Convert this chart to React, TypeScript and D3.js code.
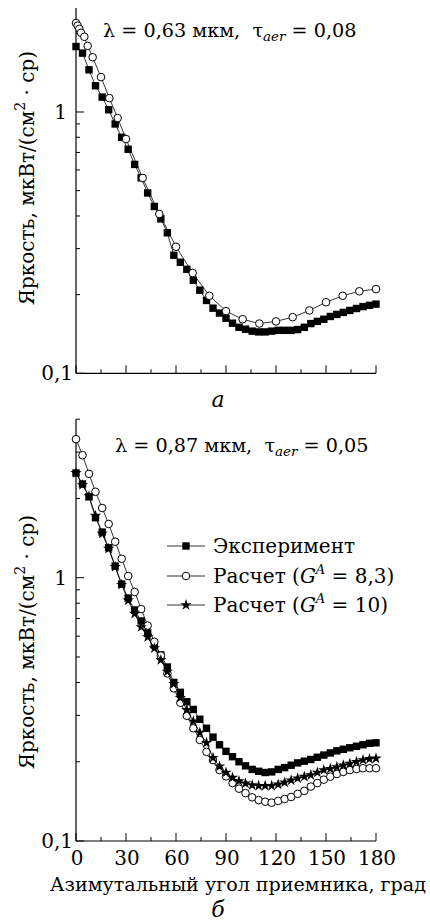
import React from 'react';
import * as d3 from 'd3';

// Azimuth angles of the measured/calculated points (deg)
const gridAngles = [0, 3.9, 7.8, 11.7, 15.7, 19.6, 23.5, 27.4, 31.3, 35.2, 39.1, 43.0, 47.0, 50.9, 54.8, 58.7, 62.6, 66.5, 70.4, 74.3, 78.3, 82.2, 86.1, 90.0, 93.9, 97.8, 101.7, 105.7, 109.6, 113.5, 117.4, 121.3, 125.2, 129.1, 133.0, 137.0, 140.9, 144.8, 148.7, 152.6, 156.5, 160.4, 164.3, 168.3, 172.2, 176.1, 180];

// Panel a: λ = 0,63 мкм
const topExp = [1.78, 1.68, 1.45, 1.26, 1.14, 1.02, 0.90, 0.80, 0.72, 0.63, 0.56, 0.49, 0.435, 0.39, 0.345, 0.283, 0.266, 0.25, 0.227, 0.208, 0.19, 0.1775, 0.17, 0.1625, 0.1555, 0.150, 0.1475, 0.145, 0.144, 0.144, 0.145, 0.146, 0.146, 0.146, 0.147, 0.150, 0.155, 0.158, 0.161, 0.165, 0.168, 0.171, 0.174, 0.177, 0.180, 0.182, 0.184];
const topCalcAngles = [0, 1, 2, 3, 5, 7, 10, 15, 20, 25, 30, 40, 50, 60, 70, 80, 90, 100, 110, 120, 130, 140, 150, 160, 170, 180];
const topCalc = [2.19, 2.14, 2.08, 2.01, 1.94, 1.79, 1.62, 1.36, 1.13, 0.948, 0.788, 0.559, 0.407, 0.305, 0.242, 0.198, 0.173, 0.161, 0.155, 0.158, 0.164, 0.174, 0.187, 0.198, 0.206, 0.210];

// Panel б: λ = 0,87 мкм
const botExp = [2.50, 2.27, 2.03, 1.69, 1.49, 1.30, 1.107, 0.946, 0.837, 0.754, 0.685, 0.617, 0.555, 0.509, 0.458, 0.40, 0.367, 0.338, 0.316, 0.29, 0.268, 0.248, 0.232, 0.219, 0.209, 0.200, 0.193, 0.187, 0.184, 0.182, 0.183, 0.187, 0.190, 0.194, 0.198, 0.201, 0.204, 0.208, 0.212, 0.216, 0.220, 0.223, 0.226, 0.229, 0.232, 0.235, 0.236];
const botCalc83 = [3.36, 2.92, 2.48, 2.12, 1.84, 1.60, 1.37, 1.18, 1.015, 0.883, 0.760, 0.658, 0.571, 0.506, 0.433, 0.380, 0.335, 0.299, 0.268, 0.242, 0.218, 0.203, 0.186, 0.176, 0.166, 0.158, 0.152, 0.1465, 0.143, 0.141, 0.1398, 0.142, 0.1444, 0.147, 0.151, 0.155, 0.161, 0.166, 0.171, 0.1755, 0.1797, 0.183, 0.186, 0.1877, 0.189, 0.189, 0.189];
const botCalc10 = [2.50, 2.25, 2.04, 1.72, 1.47, 1.29, 1.10, 0.94, 0.82, 0.73, 0.65, 0.595, 0.54, 0.487, 0.44, 0.395, 0.35, 0.315, 0.285, 0.258, 0.236, 0.207, 0.192, 0.182, 0.174, 0.169, 0.1655, 0.163, 0.162, 0.162, 0.162, 0.164, 0.167, 0.170, 0.173, 0.1755, 0.178, 0.182, 0.186, 0.188, 0.191, 0.194, 0.197, 0.200, 0.203, 0.205, 0.206];

const xTicks = [0, 15, 30, 45, 60, 75, 90, 105, 120, 135, 150, 165, 180];
const xTickLabels = ['0', '30', '60', '90', '120', '150', '180'];
const yMajorLabels = ['0,1', '1'];
const legendLabels = ['Эксперимент', 'Расчет (', 'Расчет ('];
const legendRest = ['', ' = 8,3)', ' = 10)'];

const FONT = '"DejaVu Serif", serif';
const W = 430;
const H = 922;

const x = d3.scaleLinear().domain([0, 180]).range([76, 376]);
const yTop = d3.scaleLog().domain([0.1, 2.5]).range([373.3, 8]);
const yBot = d3.scaleLog().domain([0.1, 4]).range([841, 419.2]);

type Pt = [number, number];
const zip = (a: number[], v: number[]): Pt[] => a.map((d, i) => [d, v[i]]);

const starPath = d3.symbol().type(d3.symbolStar).size(40)() as string;

function Marker({ kind, cx, cy }: { kind: string; cx: number; cy: number }) {
  if (kind === 'square') {
    return <rect x={cx - 3.7} y={cy - 3.7} width={7.4} height={7.4} fill="#000" />;
  }
  if (kind === 'circle') {
    return <circle cx={cx} cy={cy} r={3.8} fill="#fff" stroke="#000" strokeWidth={1} />;
  }
  return <path d={starPath} transform={`translate(${cx},${cy})`} fill="#000" />;
}

function Series({ pts, y, kind }: { pts: Pt[]; y: any; kind: string }) {
  const line = d3.line<Pt>().x(d => x(d[0])).y(d => y(d[1]));
  return (
    <g>
      <path d={line(pts) as string} fill="none" stroke="#000" strokeWidth={0.8} />
      {pts.map((d, i) => (
        <Marker key={i} kind={kind} cx={x(d[0])} cy={y(d[1])} />
      ))}
    </g>
  );
}

function Axes({ y, showLabels }: { y: any; showLabels: boolean }) {
  const [y0, y1] = y.range();
  const ticks: number[] = y.ticks().filter((t: number) => t <= y.domain()[1] + 1e-9);
  return (
    <g>
      <line x1={76} x2={76} y1={y1} y2={y0} stroke="#000" strokeWidth={1.2} />
      <line x1={76} x2={376} y1={y0} y2={y0} stroke="#000" strokeWidth={1.2} />
      {xTicks.map(t => {
        const len = t % 30 === 0 ? 8 : 4;
        return <line key={t} x1={x(t)} x2={x(t)} y1={y0} y2={y0 - len} stroke="#000" strokeWidth={1} />;
      })}
      {ticks.map(t => {
        const major = Math.abs(Math.log10(t) - Math.round(Math.log10(t))) < 1e-6;
        const len = major ? 8 : 4;
        return <line key={t} x1={76} x2={76 + len} y1={y(t)} y2={y(t)} stroke="#000" strokeWidth={1} />;
      })}
      {yMajorLabels.map((lab, i) => (
        <text key={lab} x={i === 0 ? 73 : 67} y={y(i === 0 ? 0.1 : 1) + 7} textAnchor="end" fontSize={20} fontFamily={FONT}>
          {lab}
        </text>
      ))}
      {showLabels && xTickLabels.map(lab => (
        <text key={lab} x={x(+lab) + 1} y={y0 + 24} textAnchor="middle" fontSize={20} fontFamily={FONT}>
          {lab}
        </text>
      ))}
    </g>
  );
}

function YLabel({ cy }: { cy: number }) {
  return (
    <text transform={`translate(34,${cy}) rotate(-90)`} textAnchor="middle" fontSize={20} fontFamily={FONT}>
      Яркость, мкВт/(см<tspan fontSize={14} dy={-9}>2</tspan><tspan dy={9}> · ср)</tspan>
    </text>
  );
}

function Title({ tx, ty, lam, tau }: { tx: number; ty: number; lam: string; tau: string }) {
  return (
    <text x={tx} y={ty} fontSize={19.2} fontFamily={FONT} style={{ whiteSpace: 'pre' }}>
      {`λ = ${lam} мкм,  τ`}
      <tspan fontSize={13.5} fontStyle="italic" dy={4}>aer</tspan>
      <tspan dy={-4}>{` = ${tau}`}</tspan>
    </text>
  );
}

export default function App() {
  const legendRows = [546, 576, 605];
  const legendKinds = ['square', 'circle', 'star'];
  return (
    <svg width={W} height={H} viewBox={`0 0 ${W} ${H}`} style={{ position: 'absolute', left: 0, top: 0, background: '#fff' }}>
      {/* Panel a */}
      <Axes y={yTop} showLabels={false} />
      <Series pts={zip(gridAngles, topExp)} y={yTop} kind="square" />
      <Series pts={zip(topCalcAngles, topCalc)} y={yTop} kind="circle" />
      <Title tx={103} ty={37} lam="0,63" tau="0,08" />
      <YLabel cy={178} />
      <text x={218} y={407} textAnchor="middle" fontSize={22} fontStyle="italic" fontFamily={FONT}>a</text>

      {/* Panel б */}
      <Axes y={yBot} showLabels={true} />
      <Series pts={zip(gridAngles, botExp)} y={yBot} kind="square" />
      <Series pts={zip(gridAngles, botCalc83)} y={yBot} kind="circle" />
      <Series pts={zip(gridAngles, botCalc10)} y={yBot} kind="star" />
      <Title tx={115} ty={452} lam="0,87" tau="0,05" />
      <YLabel cy={642} />

      {legendRows.map((ly, i) => (
        <g key={i}>
          <line x1={167} x2={205} y1={ly} y2={ly} stroke="#000" strokeWidth={0.8} />
          <Marker kind={legendKinds[i]} cx={186} cy={ly} />
          <text x={213} y={ly + 7} fontSize={20} fontFamily={FONT} style={{ whiteSpace: 'pre' }}>
            {legendLabels[i]}
            {i > 0 && <tspan fontStyle="italic">G</tspan>}
            {i > 0 && <tspan fontSize={13} fontStyle="italic" dy={-9}>A</tspan>}
            {i > 0 && <tspan dy={9}>{legendRest[i]}</tspan>}
          </text>
        </g>
      ))}

      <text x={238} y={891} textAnchor="middle" fontSize={19.1} fontFamily={FONT}>
        Азимутальный угол приемника, град
      </text>
      <text x={218} y={917} textAnchor="middle" fontSize={22} fontStyle="italic" fontFamily={FONT}>б</text>
    </svg>
  );
}
